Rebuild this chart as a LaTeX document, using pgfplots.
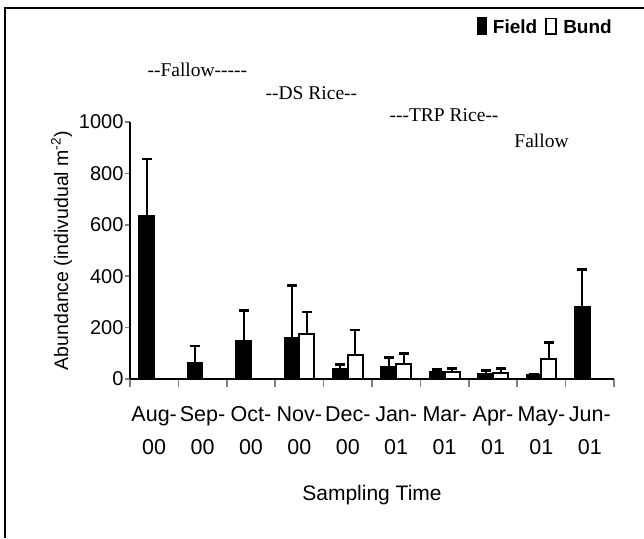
\documentclass[border=0pt]{standalone}
\usepackage{fontspec}
\setmainfont{Liberation Sans}
\newfontfamily\seriffont{Liberation Serif}
\usepackage{pgfplots}
\pgfplotsset{compat=1.18}
\begin{document}
\begin{tikzpicture}
\useasboundingbox (0pt,0pt) rectangle (644pt,-538pt);
\draw[line width=1.5pt] (5pt,-538pt) -- (5pt,-8pt) -- (644pt,-8pt);
\begin{axis}[
  at={(130pt,-379pt)}, anchor=south west,
  scale only axis, width=484pt, height=257pt,
  xmin=-0.5, xmax=9.5, ymin=0, ymax=1000,
  axis lines=left, axis line style={-, line width=1.5pt},
  ybar=0pt, bar width=15pt,
  clip=false,
  /pgf/number format/assume math mode=true,
  /pgf/number format/1000 sep={},
  xtick={0,...,9},
  xticklabels={{Aug-\\00},{Sep-\\00},{Oct-\\00},{Nov-\\00},{Dec-\\00},{Jan-\\01},{Mar-\\01},{Apr-\\01},{May-\\01},{Jun-\\01}},
  minor xtick={-0.5,0.5,...,9.5},
  major x tick style={draw=none},
  minor x tick style={line width=1.5pt},
  minor tick length=8pt,
  major tick length=5pt,
  tick align=outside,
  ytick={0,200,...,1000},
  ytick style={line width=1.5pt},
  xticklabel style={align=center, font=\fontsize{21.5}{33}\selectfont, yshift=-19pt},
  yticklabel style={font=\fontsize{20}{20}\selectfont, xshift=2pt},
  xlabel={Sampling Time},
  ylabel={Abundance (indivudual m\textsuperscript{-2})},
  xlabel style={font=\fontsize{21}{21}\selectfont, yshift=-24pt},
  ylabel style={font=\fontsize{19.5}{19.5}\selectfont},
  legend style={at={(axis cs:9.5,1370)}, anchor=east, draw=none, fill=none,
    legend columns=-1, font=\bfseries\fontsize{19}{19}\selectfont,
    inner sep=0pt},
  error bars/y dir=plus, error bars/y explicit,
  error bars/error mark options={rotate=90, mark size=5pt, line width=2.5pt},
  error bars/error bar style={line width=2pt},
]
\addplot[fill=black, draw=black, line width=1.5pt,
  legend image code/.code={\draw[fill=black,draw=black] (0pt,-7.5pt) rectangle (8pt,9pt); \path (12pt,0pt);}]
  coordinates {
  (0,636) +- (0,221)
  (1,64) +- (0,65)
  (2,149) +- (0,118)
  (3,160) +- (0,204)
  (4,40) +- (0,16)
  (5,49) +- (0,34)
  (6,27) +- (0,10)
  (7,20) +- (0,13)
  (8,15) +- (0,5)
  (9,283) +- (0,144)
};
\addlegendentry{Field}
\addplot[fill=white, draw=black, line width=2pt,
  legend image code/.code={\path (-6pt,0pt); \draw[fill=white,draw=black,line width=1.8pt] (0pt,-7pt) rectangle (10pt,8.5pt); \path (14pt,0pt);}]
  coordinates {
  (0,0) +- (0,0)
  (1,0) +- (0,0)
  (2,0) +- (0,0)
  (3,177) +- (0,83)
  (4,92) +- (0,99)
  (5,57) +- (0,43)
  (6,27) +- (0,13)
  (7,23) +- (0,17)
  (8,76) +- (0,67)
  (9,0) +- (0,0)
};
\addlegendentry{Bund}
\node[anchor=west, font=\seriffont\fontsize{19.5}{19.5}\selectfont] at (axis cs:-0.21,1202) {-{}-Fallow-{}-{}-{}-{}-};
\node[anchor=west, font=\seriffont\fontsize{19.5}{19.5}\selectfont] at (axis cs:2.23,1113) {-{}-DS Rice-{}-};
\node[anchor=west, font=\seriffont\fontsize{19.5}{19.5}\selectfont] at (axis cs:4.79,1028) {-{}-{}-TRP Rice-{}-};
\node[anchor=west, font=\seriffont\fontsize{19.5}{19.5}\selectfont] at (axis cs:7.37,926) {Fallow};
\end{axis}
\end{tikzpicture}
\end{document}
